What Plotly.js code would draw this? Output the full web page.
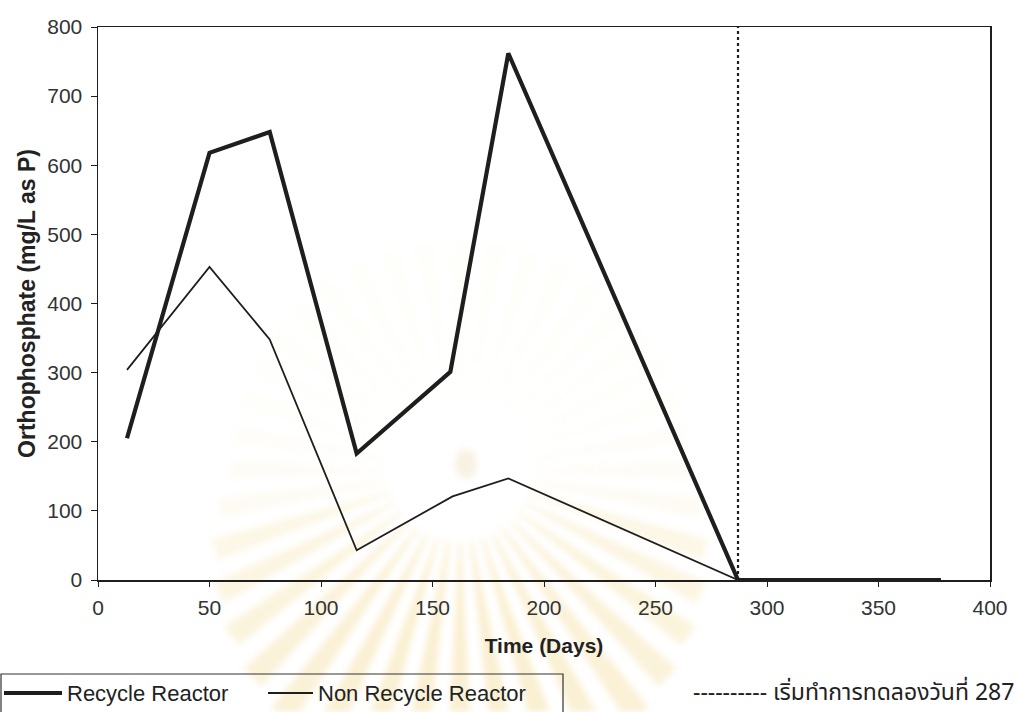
<!DOCTYPE html>
<html>
<head>
<meta charset="utf-8">
<script src="https://cdn.plot.ly/plotly-3.0.1.min.js"></script>
<style>
  html, body { margin: 0; padding: 0; background: #ffffff; }
  #wrap { position: relative; width: 1021px; height: 712px; overflow: hidden; background: #ffffff; }
  #emblem { position: absolute; left: 0; top: 0; width: 1021px; height: 712px; filter: blur(3px); }
  #chart { position: absolute; left: 0; top: 0; width: 1021px; height: 712px; }
</style>
</head>
<body>
<div id="wrap">
  <svg id="emblem" width="1021" height="712"></svg>
  <div id="chart"></div>
</div>
<script>
// Sampling days and orthophosphate readings (mg/L as P)
const recycleDays = [13, 50, 77, 116, 158, 184, 287, 378];
const recycleP    = [205, 618, 648, 183, 301, 762, 0, 0];

const nonRecycleDays = [13, 50, 77, 116, 159, 184, 287, 378];
const nonRecycleP    = [304, 453, 348, 43, 121, 147, 0, 0];

const seriesNames = ['Recycle Reactor', 'Non Recycle Reactor'];

// Day on which the experiment run started
const startDay = 287;
const startNote = '---------- เริ่มทำการทดลองวันที่ ' + startDay;

const xTicks = [0, 50, 100, 150, 200, 250, 300, 350, 400];
const yTicks = [0, 100, 200, 300, 400, 500, 600, 700, 800];

// Faint university emblem behind the plot: a sunburst of rays
(function drawEmblem() {
  const svg = document.getElementById('emblem');
  const ns = 'http://www.w3.org/2000/svg';
  const cx = 460, cy = 470;
  const n = 40;
  for (let i = 0; i < n; i++) {
    const a = (i / n) * Math.PI * 2;
    const half = Math.PI / n * 0.55;
    const lower = Math.sin(a); // positive = below centre
    const r0 = 72, r1 = 230 + 90 * Math.max(0, lower);
    const pts = [
      [cx + r0 * Math.cos(a - half * 0.4), cy + r0 * Math.sin(a - half * 0.4)],
      [cx + r1 * Math.cos(a - half), cy + r1 * Math.sin(a - half)],
      [cx + r1 * Math.cos(a + half), cy + r1 * Math.sin(a + half)],
      [cx + r0 * Math.cos(a + half * 0.4), cy + r0 * Math.sin(a + half * 0.4)]
    ];
    const p = document.createElementNS(ns, 'polygon');
    p.setAttribute('points', pts.map(q => q.join(',')).join(' '));
    const w = Math.max(0, lower + 0.25) / 1.25;
    const op = 0.05 + 0.28 * w;
    p.setAttribute('fill', lower > 0.2 ? '#f0cf72' : '#f2e2b4');
    p.setAttribute('fill-opacity', op.toFixed(3));
    svg.appendChild(p);
  }
  const hub = document.createElementNS(ns, 'ellipse');
  hub.setAttribute('cx', cx + 6); hub.setAttribute('cy', cy - 6);
  hub.setAttribute('rx', 11); hub.setAttribute('ry', 15);
  hub.setAttribute('fill', '#efe2c0'); hub.setAttribute('fill-opacity', '0.45');
  svg.appendChild(hub);
})();

const ink = '#1e1e1e';
const sans = 'Liberation Sans, Arial, sans-serif';
const lineWidths = [4.2, 1.8];

const traces = [
  {
    x: recycleDays, y: recycleP, name: seriesNames[0],
    type: 'scatter', mode: 'lines',
    line: { color: ink, width: lineWidths[0] }
  },
  {
    x: nonRecycleDays, y: nonRecycleP, name: seriesNames[1],
    type: 'scatter', mode: 'lines',
    line: { color: ink, width: lineWidths[1] }
  }
];

// Plot area spans 98..990 px horizontally and 27..580 px vertically;
// helpers turn page pixels into paper fractions for the legend box.
const W = 1021, H = 712, L = 98, R = 31, T = 27, B = 132;
const pw = W - L - R, ph = H - T - B;
const px = v => (v - L) / pw;
const py = v => (H - B - v) / ph;

const legendRow = 693;
const shapes = [
  {
    type: 'line', xref: 'x', yref: 'paper',
    x0: startDay, x1: startDay, y0: 0, y1: 1,
    line: { color: ink, width: 2.2, dash: 'dot' }
  },
  // legend frame (runs past the lower edge of the page)
  {
    type: 'rect', xref: 'paper', yref: 'paper',
    x0: px(1), x1: px(563), y0: py(674), y1: py(730),
    line: { color: '#333', width: 1.2 }, fillcolor: 'rgba(0,0,0,0)'
  },
  {
    type: 'line', xref: 'paper', yref: 'paper',
    x0: px(4), x1: px(62), y0: py(legendRow), y1: py(legendRow),
    line: { color: ink, width: lineWidths[0] }
  },
  {
    type: 'line', xref: 'paper', yref: 'paper',
    x0: px(268), x1: px(313), y0: py(legendRow), y1: py(legendRow),
    line: { color: ink, width: lineWidths[1] }
  }
];

const legendFont = { family: sans, size: 22, color: '#222' };
const annotations = [
  {
    xref: 'paper', yref: 'paper', x: px(65), y: py(legendRow),
    xanchor: 'left', yanchor: 'middle', showarrow: false,
    text: seriesNames[0], font: legendFont
  },
  {
    xref: 'paper', yref: 'paper', x: px(316), y: py(legendRow),
    xanchor: 'left', yanchor: 'middle', showarrow: false,
    text: seriesNames[1], font: legendFont
  },
  {
    xref: 'paper', yref: 'paper', x: px(1016), y: py(693),
    xanchor: 'right', yanchor: 'middle', showarrow: false,
    text: startNote,
    font: { family: 'Noto Sans Thai, Loma, Garuda, Tlwg Typo, Noto Sans, DejaVu Sans, sans-serif', size: 23, color: '#222' }
  }
];

const layout = {
  width: W, height: H,
  margin: { l: L, r: R, t: T, b: B },
  paper_bgcolor: 'rgba(0,0,0,0)',
  plot_bgcolor: 'rgba(0,0,0,0)',
  font: { family: sans, size: 21, color: '#333' },
  showlegend: false,
  xaxis: {
    range: [0, 400], tickvals: xTicks, ticktext: xTicks.map(String),
    ticks: 'outside', ticklen: 5, tickcolor: ink, tickwidth: 1,
    showline: true, mirror: true, linecolor: ink, linewidth: 1.5,
    showgrid: false, zeroline: false, ticklabelstandoff: 3, automargin: false,
    title: { text: '<b>Time (Days)</b>', font: { family: sans, size: 21, color: '#222' }, standoff: 20 }
  },
  yaxis: {
    range: [0, 800], tickvals: yTicks, ticktext: yTicks.map(String),
    ticks: 'outside', ticklen: 6, tickcolor: ink, tickwidth: 1,
    showline: true, mirror: true, linecolor: ink, linewidth: 1.5,
    showgrid: false, zeroline: false, ticklabelstandoff: 4, automargin: false,
    title: { text: '<b>Orthophosphate (mg/L as P)</b>', font: { family: sans, size: 23, color: '#222' }, standoff: 5 }
  },
  shapes: shapes,
  annotations: annotations
};

Plotly.newPlot('chart', traces, layout, { displayModeBar: false, staticPlot: true });
</script>
</body>
</html>
